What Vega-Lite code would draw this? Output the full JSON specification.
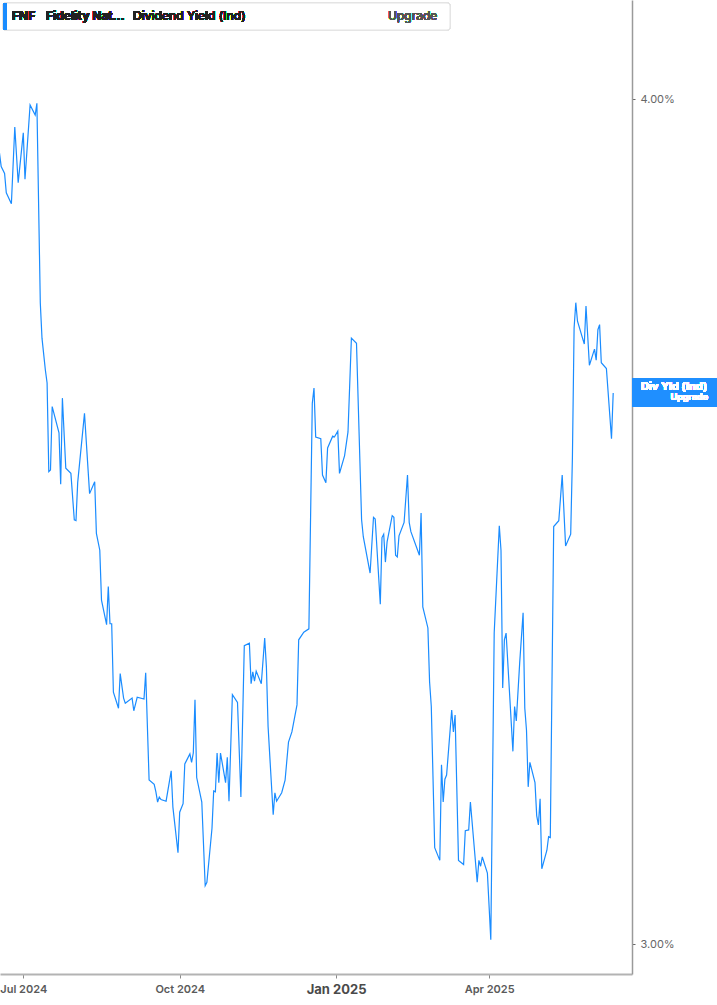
{
  "$schema": "https://vega.github.io/schema/vega-lite/v6.json",
  "width": 632,
  "height": 974,
  "autosize": {"type": "none"},
  "padding": {"left": 0, "top": 0, "right": 85, "bottom": 31},
  "background": "#ffffff",
  "config": {"view": {"stroke": null}, "font": "Inter"},
  "data": {
    "format": {"parse": {"date": "utc:'%Y-%m-%d'"}},
    "values": [
      {"date":"2024-06-17","value":3.936},{"date":"2024-06-18","value":3.920},{"date":"2024-06-20","value":3.912},{"date":"2024-06-21","value":3.889},{"date":"2024-06-24","value":3.876},{"date":"2024-06-26","value":3.967},{"date":"2024-06-28","value":3.901},{"date":"2024-07-01","value":3.960},{"date":"2024-07-02","value":3.905},{"date":"2024-07-05","value":3.993},{"date":"2024-07-08","value":3.981},{"date":"2024-07-09","value":3.995},{"date":"2024-07-11","value":3.759},{"date":"2024-07-12","value":3.717},{"date":"2024-07-14","value":3.679},{"date":"2024-07-15","value":3.664},{"date":"2024-07-16","value":3.559},{"date":"2024-07-17","value":3.561},{"date":"2024-07-18","value":3.636},{"date":"2024-07-22","value":3.605},{"date":"2024-07-23","value":3.544},{"date":"2024-07-24","value":3.646},{"date":"2024-07-26","value":3.563},{"date":"2024-07-29","value":3.557},{"date":"2024-07-31","value":3.502},{"date":"2024-08-01","value":3.501},{"date":"2024-08-02","value":3.546},{"date":"2024-08-06","value":3.628},{"date":"2024-08-09","value":3.533},{"date":"2024-08-12","value":3.547},{"date":"2024-08-13","value":3.486},{"date":"2024-08-15","value":3.466},{"date":"2024-08-16","value":3.407},{"date":"2024-08-19","value":3.378},{"date":"2024-08-20","value":3.423},{"date":"2024-08-21","value":3.379},{"date":"2024-08-22","value":3.379},{"date":"2024-08-23","value":3.298},{"date":"2024-08-26","value":3.279},{"date":"2024-08-27","value":3.320},{"date":"2024-08-29","value":3.291},{"date":"2024-08-30","value":3.285},{"date":"2024-09-03","value":3.291},{"date":"2024-09-04","value":3.276},{"date":"2024-09-06","value":3.292},{"date":"2024-09-10","value":3.290},{"date":"2024-09-11","value":3.321},{"date":"2024-09-13","value":3.194},{"date":"2024-09-16","value":3.189},{"date":"2024-09-17","value":3.180},{"date":"2024-09-18","value":3.168},{"date":"2024-09-19","value":3.174},{"date":"2024-09-20","value":3.171},{"date":"2024-09-23","value":3.169},{"date":"2024-09-26","value":3.205},{"date":"2024-09-27","value":3.162},{"date":"2024-09-30","value":3.108},{"date":"2024-10-01","value":3.156},{"date":"2024-10-03","value":3.166},{"date":"2024-10-04","value":3.213},{"date":"2024-10-07","value":3.225},{"date":"2024-10-08","value":3.215},{"date":"2024-10-09","value":3.226},{"date":"2024-10-10","value":3.289},{"date":"2024-10-11","value":3.197},{"date":"2024-10-14","value":3.168},{"date":"2024-10-16","value":3.069},{"date":"2024-10-17","value":3.073},{"date":"2024-10-20","value":3.137},{"date":"2024-10-21","value":3.181},{"date":"2024-10-22","value":3.180},{"date":"2024-10-23","value":3.226},{"date":"2024-10-24","value":3.191},{"date":"2024-10-25","value":3.226},{"date":"2024-10-28","value":3.191},{"date":"2024-10-29","value":3.221},{"date":"2024-10-30","value":3.169},{"date":"2024-11-01","value":3.295},{"date":"2024-11-04","value":3.286},{"date":"2024-11-06","value":3.174},{"date":"2024-11-08","value":3.353},{"date":"2024-11-11","value":3.356},{"date":"2024-11-12","value":3.308},{"date":"2024-11-13","value":3.322},{"date":"2024-11-14","value":3.311},{"date":"2024-11-15","value":3.323},{"date":"2024-11-18","value":3.308},{"date":"2024-11-20","value":3.362},{"date":"2024-11-21","value":3.328},{"date":"2024-11-22","value":3.257},{"date":"2024-11-25","value":3.153},{"date":"2024-11-26","value":3.179},{"date":"2024-11-27","value":3.169},{"date":"2024-11-30","value":3.179},{"date":"2024-12-02","value":3.194},{"date":"2024-12-04","value":3.239},{"date":"2024-12-06","value":3.251},{"date":"2024-12-09","value":3.283},{"date":"2024-12-10","value":3.360},{"date":"2024-12-13","value":3.369},{"date":"2024-12-16","value":3.373},{"date":"2024-12-18","value":3.640},{"date":"2024-12-19","value":3.658},{"date":"2024-12-20","value":3.600},{"date":"2024-12-23","value":3.598},{"date":"2024-12-24","value":3.555},{"date":"2024-12-26","value":3.546},{"date":"2024-12-27","value":3.587},{"date":"2024-12-30","value":3.601},{"date":"2024-12-31","value":3.600},{"date":"2025-01-02","value":3.607},{"date":"2025-01-03","value":3.557},{"date":"2025-01-06","value":3.578},{"date":"2025-01-08","value":3.606},{"date":"2025-01-10","value":3.717},{"date":"2025-01-13","value":3.711},{"date":"2025-01-16","value":3.502},{"date":"2025-01-17","value":3.482},{"date":"2025-01-21","value":3.439},{"date":"2025-01-23","value":3.505},{"date":"2025-01-24","value":3.503},{"date":"2025-01-27","value":3.402},{"date":"2025-01-28","value":3.481},{"date":"2025-01-29","value":3.485},{"date":"2025-01-30","value":3.452},{"date":"2025-01-31","value":3.476},{"date":"2025-02-03","value":3.507},{"date":"2025-02-04","value":3.505},{"date":"2025-02-05","value":3.460},{"date":"2025-02-06","value":3.458},{"date":"2025-02-07","value":3.483},{"date":"2025-02-10","value":3.499},{"date":"2025-02-12","value":3.555},{"date":"2025-02-13","value":3.499},{"date":"2025-02-14","value":3.488},{"date":"2025-02-19","value":3.460},{"date":"2025-02-20","value":3.510},{"date":"2025-02-21","value":3.399},{"date":"2025-02-24","value":3.374},{"date":"2025-02-25","value":3.310},{"date":"2025-02-26","value":3.281},{"date":"2025-02-28","value":3.114},{"date":"2025-03-03","value":3.099},{"date":"2025-03-04","value":3.212},{"date":"2025-03-05","value":3.168},{"date":"2025-03-06","value":3.195},{"date":"2025-03-07","value":3.200},{"date":"2025-03-10","value":3.277},{"date":"2025-03-11","value":3.251},{"date":"2025-03-12","value":3.271},{"date":"2025-03-14","value":3.099},{"date":"2025-03-17","value":3.094},{"date":"2025-03-18","value":3.134},{"date":"2025-03-20","value":3.135},{"date":"2025-03-21","value":3.168},{"date":"2025-03-25","value":3.073},{"date":"2025-03-26","value":3.099},{"date":"2025-03-27","value":3.092},{"date":"2025-03-28","value":3.103},{"date":"2025-03-31","value":3.084},{"date":"2025-04-02","value":3.005},{"date":"2025-04-04","value":3.368},{"date":"2025-04-07","value":3.495},{"date":"2025-04-08","value":3.466},{"date":"2025-04-09","value":3.303},{"date":"2025-04-10","value":3.360},{"date":"2025-04-11","value":3.368},{"date":"2025-04-15","value":3.228},{"date":"2025-04-16","value":3.281},{"date":"2025-04-17","value":3.264},{"date":"2025-04-19","value":3.333},{"date":"2025-04-21","value":3.392},{"date":"2025-04-22","value":3.279},{"date":"2025-04-23","value":3.253},{"date":"2025-04-24","value":3.186},{"date":"2025-04-25","value":3.215},{"date":"2025-04-28","value":3.191},{"date":"2025-04-29","value":3.152},{"date":"2025-04-30","value":3.141},{"date":"2025-05-01","value":3.172},{"date":"2025-05-02","value":3.089},{"date":"2025-05-05","value":3.111},{"date":"2025-05-06","value":3.127},{"date":"2025-05-07","value":3.126},{"date":"2025-05-09","value":3.494},{"date":"2025-05-12","value":3.501},{"date":"2025-05-14","value":3.555},{"date":"2025-05-16","value":3.471},{"date":"2025-05-19","value":3.485},{"date":"2025-05-20","value":3.575},{"date":"2025-05-21","value":3.729},{"date":"2025-05-22","value":3.759},{"date":"2025-05-23","value":3.737},{"date":"2025-05-27","value":3.710},{"date":"2025-05-28","value":3.755},{"date":"2025-05-30","value":3.685},{"date":"2025-06-02","value":3.704},{"date":"2025-06-03","value":3.691},{"date":"2025-06-04","value":3.727},{"date":"2025-06-05","value":3.733},{"date":"2025-06-06","value":3.688},{"date":"2025-06-09","value":3.681},{"date":"2025-06-12","value":3.598},{"date":"2025-06-13","value":3.652}
    ]
  },
  "encoding": {
    "x": {
      "field": "date", "type": "temporal",
      "scale": {"type": "utc", "domain": [1718608320000, 1750728384000]},
      "axis": {
        "title": null, "grid": false,
        "values": [1719792000000, 1727740800000, 1735689600000, 1743465600000],
        "labelExpr": "utcFormat(datum.value, '%b %Y')",
        "domainColor": "#b3b3b3", "domainWidth": 2,
        "tickColor": "#8a8a8a", "tickSize": 4, "tickWidth": 1,
        "labelColor": {"condition": {"test": "utcmonth(datum.value) === 0", "value": "#4a4a4a"}, "value": "#5a5a5a"},
        "labelFontSize": {"condition": {"test": "utcmonth(datum.value) === 0", "value": 13}, "value": 11},
        "labelFontWeight": {"condition": {"test": "utcmonth(datum.value) === 0", "value": 700}, "value": 600},
        "labelPadding": 5, "labelFont": "Inter", "labelFlush": false, "labelOverlap": false
      }
    },
    "y": {
      "field": "value", "type": "quantitative",
      "scale": {"domain": [2.9645, 4.1172], "zero": false, "nice": false},
      "axis": {
        "orient": "right", "title": null, "grid": false,
        "values": [3, 4],
        "labelExpr": "format(datum.value, '.2f') + '%'",
        "domainColor": "#9a9a9a", "domainWidth": 1.5,
        "tickColor": "#666666", "tickSize": 3,
        "labelColor": "#666666", "labelFontSize": 11, "labelPadding": 5, "labelFont": "Inter"
      }
    }
  },
  "layer": [
    {"mark": {"type": "line", "color": "#1a8cff", "strokeWidth": 1.2, "clip": true}},
    {
      "mark": {"type": "rect", "fill": "#ffffff", "stroke": "#e4e4e4", "strokeWidth": 1, "cornerRadius": 3},
      "encoding": {
        "x": {"datum": 1718760816000, "type": "temporal"},
        "x2": {"datum": 1741478400000},
        "y": {"datum": 4.1136, "type": "quantitative"},
        "y2": {"datum": 4.0817}
      }
    },
    {
      "mark": {"type": "rect", "fill": "#1a8cff"},
      "encoding": {
        "x": {"datum": 1718760816000, "type": "temporal"},
        "x2": {"datum": 1718964080000},
        "y": {"datum": 4.1136, "type": "quantitative"},
        "y2": {"datum": 4.0817}
      }
    },
    {
      "mark": {"type": "text", "text": "FNF", "align": "left", "baseline": "middle", "fontSize": 12, "fontWeight": 700, "color": "#222222", "font": "Inter"},
      "encoding": {"x": {"datum": 1719218200000, "type": "temporal"}, "y": {"datum": 4.0977, "type": "quantitative"}}
    },
    {
      "mark": {"type": "text", "text": "Fidelity Nat…", "align": "left", "baseline": "middle", "fontSize": 12, "fontWeight": 700, "color": "#222222", "font": "Inter"},
      "encoding": {"x": {"datum": 1720946200000, "type": "temporal"}, "y": {"datum": 4.0977, "type": "quantitative"}}
    },
    {
      "mark": {"type": "text", "text": "Dividend Yield (Ind)", "align": "left", "baseline": "middle", "fontSize": 12, "fontWeight": 500, "color": "#222222", "font": "Inter"},
      "encoding": {"x": {"datum": 1725367850000, "type": "temporal"}, "y": {"datum": 4.0977, "type": "quantitative"}}
    },
    {
      "mark": {"type": "text", "text": "Upgrade", "align": "left", "baseline": "middle", "fontSize": 12, "fontWeight": 400, "color": "#555555", "font": "Inter"},
      "encoding": {"x": {"datum": 1738327850000, "type": "temporal"}, "y": {"datum": 4.0977, "type": "quantitative"}}
    },
    {
      "mark": {"type": "rect", "fill": "#1f8fff", "clip": false},
      "encoding": {
        "x": {"datum": 1750728384000, "type": "temporal"},
        "x2": {"datum": 1755048384000},
        "y": {"datum": 3.6699, "type": "quantitative"},
        "y2": {"datum": 3.6355}
      }
    },
    {
      "mark": {"type": "text", "text": "Div Yld (Ind)", "align": "center", "baseline": "middle", "fontSize": 11, "fontWeight": 700, "color": "#ffffff", "font": "Inter"},
      "encoding": {"x": {"datum": 1752863380000, "type": "temporal"}, "y": {"datum": 3.6592, "type": "quantitative"}}
    },
    {
      "mark": {"type": "text", "text": "Upgrade", "align": "right", "baseline": "middle", "fontSize": 9, "fontWeight": 600, "color": "#ffffff", "font": "Inter"},
      "encoding": {"x": {"datum": 1754591380000, "type": "temporal"}, "y": {"datum": 3.6474, "type": "quantitative"}}
    }
  ]
}
